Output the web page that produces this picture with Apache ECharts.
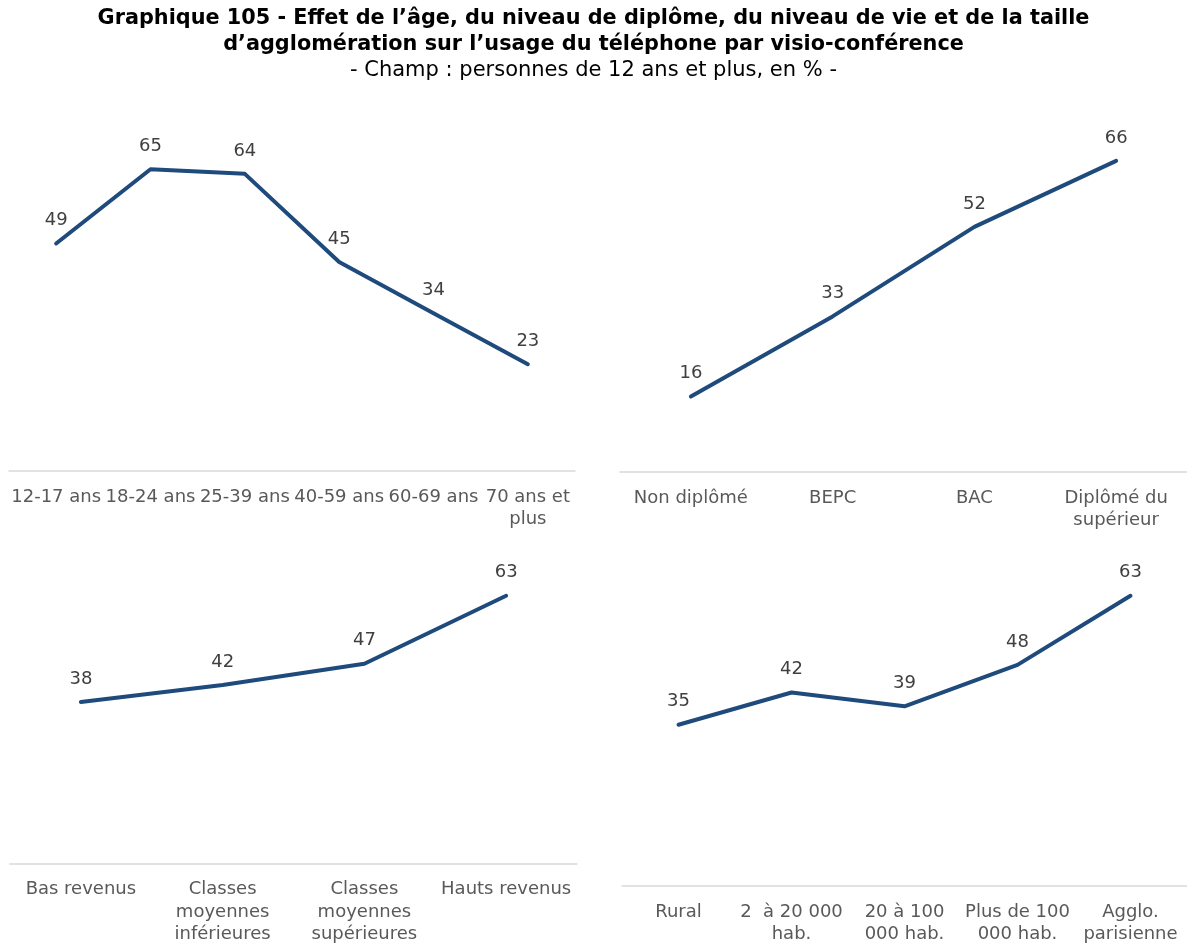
<!DOCTYPE html>
<html>
<head>
<meta charset="utf-8">
<script src="https://cdn.jsdelivr.net/npm/echarts@6/dist/echarts.min.js"></script>
<style>
html,body{margin:0;padding:0;background:#fff;}
#chart{width:1187px;height:946px;}
</style>
</head>
<body>
<div id="chart"></div>
<script>
// ---- Data ----
const titleLine1 = "Graphique 105 - Effet de l\u2019\u00e2ge, du niveau de dipl\u00f4me, du niveau de vie et de la taille";
const titleLine2 = "d\u2019agglom\u00e9ration sur l\u2019usage du t\u00e9l\u00e9phone par visio-conf\u00e9rence";
const subtitle = "- Champ : personnes de 12 ans et plus, en % -";

const ageCategories = ["12-17 ans", "18-24 ans", "25-39 ans", "40-59 ans", "60-69 ans", "70 ans et\nplus"];
const ageValues = [49, 65, 64, 45, 34, 23];

const diplomaCategories = ["Non diplômé", "BEPC", "BAC", "Diplômé du\nsupérieur"];
const diplomaValues = [16, 33, 52, 66];

const incomeCategories = ["Bas revenus", "Classes\nmoyennes\ninférieures", "Classes\nmoyennes\nsupérieures", "Hauts revenus"];
const incomeValues = [38, 42, 47, 63];

const townCategories = ["Rural", "2  à 20 000\nhab.", "20 à 100\n000 hab.", "Plus de 100\n000 hab.", "Agglo.\nparisienne"];
const townValues = [35, 42, 39, 48, 63];

// ---- Chart ----
const FONT = "DejaVu Sans, Verdana, sans-serif";
const LINE_COLOR = "#1f4a7c";

const panels = [
  {cats: ageCategories, vals: ageValues, grid: {left: 9, width: 566, top: 146, height: 325}},
  {cats: diplomaCategories, vals: diplomaValues, grid: {left: 620, width: 567, top: 142, height: 330}},
  {cats: incomeCategories, vals: incomeValues, grid: {left: 10, width: 567, top: 566, height: 303}},
  {cats: townCategories, vals: townValues, grid: {left: 622, width: 565, top: 563.5, height: 325.5}}
];

const chart = echarts.init(document.getElementById('chart'), null, {renderer: 'canvas'});

const option = {
  backgroundColor: '#ffffff',
  animation: false,
  graphic: [
    {type: 'text', left: 'center', top: 8,
     style: {text: titleLine1, font: 'bold 20.8px ' + FONT, fill: '#000'}},
    {type: 'text', left: 'center', top: 34,
     style: {text: titleLine2, font: 'bold 20.8px ' + FONT, fill: '#000'}},
    {type: 'text', left: 'center', top: 60,
     style: {text: subtitle, font: 'normal 21px ' + FONT, fill: '#000'}}
  ],
  grid: panels.map(p => Object.assign({containLabel: false}, p.grid)),
  xAxis: panels.map((p, i) => ({
    type: 'category',
    gridIndex: i,
    data: p.cats,
    boundaryGap: true,
    axisLine: {show: true, lineStyle: {color: '#d9d9d9', width: 1.5}},
    axisTick: {show: false},
    splitLine: {show: false},
    axisLabel: {
      interval: 0, margin: 15,
      fontFamily: FONT, fontSize: 18, color: '#595959', lineHeight: 22.5, align: 'center'
    }
  })),
  yAxis: panels.map((p, i) => ({
    type: 'value', gridIndex: i, min: 0, max: 70, show: false,
    splitLine: {show: false}
  })),
  series: panels.map((p, i) => ({
    type: 'line',
    xAxisIndex: i, yAxisIndex: i,
    data: p.vals,
    symbol: 'circle', symbolSize: 0,
    showSymbol: true,
    itemStyle: {color: 'rgba(0,0,0,0)', borderWidth: 0},
    lineStyle: {color: LINE_COLOR, width: 4, cap: 'round', join: 'round'},
    label: {
      show: true, position: 'top', distance: 14,
      fontFamily: FONT, fontSize: 18, color: '#404040'
    },
    emphasis: {disabled: true}
  }))
};

chart.setOption(option);
</script>
</body>
</html>
